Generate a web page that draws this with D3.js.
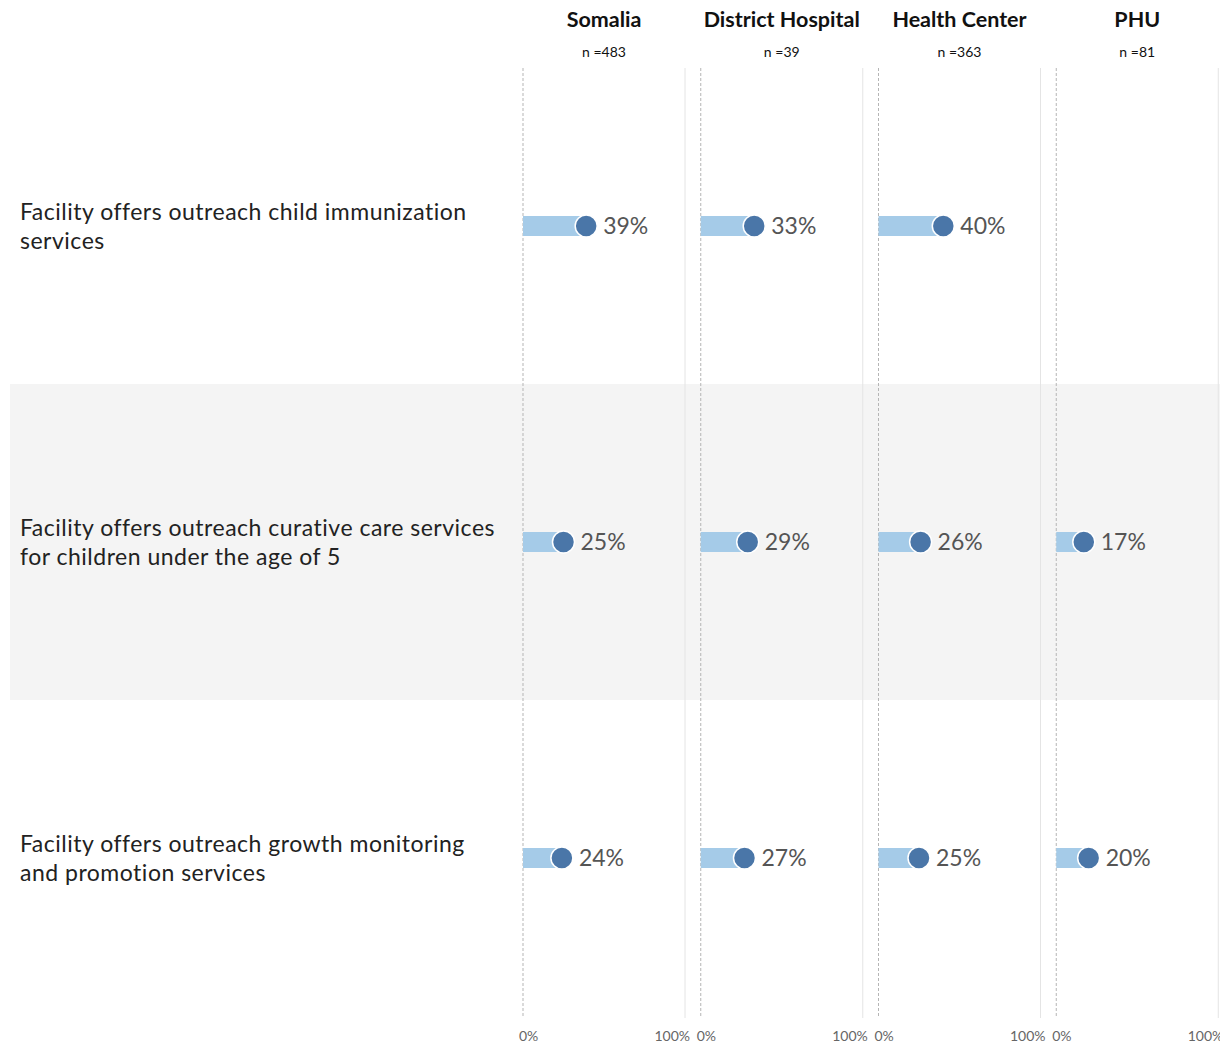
<!DOCTYPE html>
<meta charset="utf-8">
<html>
<head>
<style>
body { margin: 0; background: #fff; }
text { font-family: Lato, "Noto Sans", sans-serif; }
</style>
</head>
<body>
<script src="https://d3js.org/d3.v7.min.js"></script>
<script>

// data
var groups = ["Somalia", "District Hospital", "Health Center", "PHU"];
var groupN = [483, 39, 363, 81];
var indicators = [
  ["Facility offers outreach child immunization", "services"],
  ["Facility offers outreach curative care services", "for children under the age of 5"],
  ["Facility offers outreach growth monitoring", "and promotion services"]
];
// one array per indicator, in group order (null = no value)
var immunization = [39, 33, 40, null];
var curative = [25, 29, 26, 17];
var growth = [24, 27, 25, 20];
var axisTicks = [0, 100];

var values = [immunization, curative, growth];

var width = 1220, height = 1043;

var svg = d3.select("body").append("svg")
  .attr("width", width)
  .attr("height", height);

// panel positions
var panel = d3.scaleBand()
  .domain(groups)
  .range([523, 1234])
  .paddingInner(0.0);
var panelW = 162;

var y = d3.scaleBand()
  .domain(d3.range(indicators.length))
  .range([68, 1016]);

// shaded middle row
svg.append("rect")
  .attr("x", 10)
  .attr("y", y(1))
  .attr("width", width - 10)
  .attr("height", y.bandwidth())
  .attr("fill", "#f4f4f4");

groups.forEach(function(g, gi) {
  var x0 = panel(g);
  var x = d3.scaleLinear().domain([0, 100]).range([x0, x0 + panelW]);

  // 100% line
  svg.append("line")
    .attr("x1", x(100)).attr("x2", x(100))
    .attr("y1", 68).attr("y2", 1018)
    .attr("stroke", "#e4e4e4").attr("stroke-width", 1);

  // 0% dashed line
  svg.append("line")
    .attr("x1", x(0)).attr("x2", x(0))
    .attr("y1", 68).attr("y2", 1018)
    .attr("stroke", "#b5b5b5").attr("stroke-width", 1)
    .attr("stroke-dasharray", "3,2");

  // headers
  svg.append("text")
    .attr("x", x(50)).attr("y", 27)
    .attr("text-anchor", "middle")
    .attr("font-size", "21.5px")
    .attr("font-weight", "bold")
    .attr("fill", "#111")
    .text(g);
  svg.append("text")
    .attr("x", x(50)).attr("y", 57)
    .attr("text-anchor", "middle")
    .attr("font-size", "14px")
    .attr("fill", "#111")
    .text("n =" + groupN[gi]);

  // axis labels
  svg.selectAll(null)
    .data(axisTicks)
    .enter().append("text")
    .attr("x", function(d) { return d === 0 ? x(d) - 4 : x(d) + 5; })
    .attr("y", 1041)
    .attr("text-anchor", function(d) { return d === 0 ? "start" : "end"; })
    .attr("font-size", "14px")
    .attr("fill", "#666")
    .text(function(d) { return d + "%"; });

  // marks
  values.forEach(function(vals, ri) {
    var v = vals[gi];
    if (v === null) return;
    var cy = y(ri) + y.bandwidth() / 2;
    svg.append("rect")
      .attr("x", x(0)).attr("y", cy - 10)
      .attr("width", x(v) - x(0)).attr("height", 20)
      .attr("fill", "#a5cbe8");
    svg.append("circle")
      .attr("cx", x(v)).attr("cy", cy)
      .attr("r", 11)
      .attr("fill", "#4a76a8")
      .attr("stroke", "#fff").attr("stroke-width", 1.5);
    svg.append("text")
      .attr("x", x(v) + 17).attr("y", cy + 8)
      .attr("font-size", "23px")
      .attr("fill", "#555")
      .text(v + "%");
  });
});

// row labels
indicators.forEach(function(lines, ri) {
  var cy = y(ri) + y.bandwidth() / 2;
  var t = svg.append("text")
    .attr("x", 20)
    .attr("y", cy - 6)
    .attr("font-size", "23px")
    .attr("letter-spacing", "0.5px")
    .attr("fill", "#222");
  lines.forEach(function(l, li) {
    t.append("tspan").attr("x", 20).attr("dy", li === 0 ? 0 : 29).text(l);
  });
});

</script>
</body>
</html>
